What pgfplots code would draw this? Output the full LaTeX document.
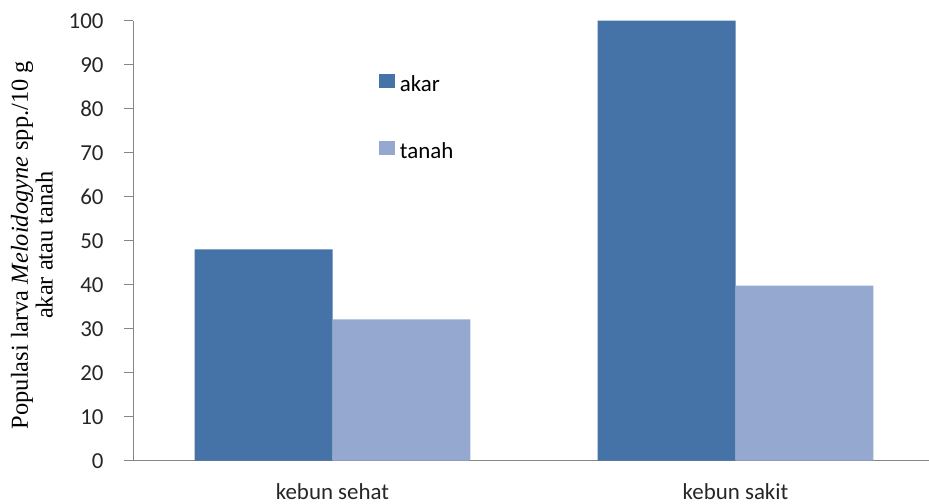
\documentclass[border=0pt]{standalone}
\usepackage{pgfplots}
\pgfplotsset{compat=1.18}
\usepackage{fontspec}
\setmainfont{Carlito}
\newfontfamily\tnr{Liberation Serif}
\definecolor{dark}{RGB}{69,114,167}
\definecolor{light}{RGB}{149,169,208}
\definecolor{axgray}{RGB}{134,134,134}
\begin{document}
\begin{tikzpicture}
\useasboundingbox (-133bp,-43.3bp) rectangle (796bp,460.7bp);
\begin{axis}[
  at={(0,0)}, anchor=south west,
  scale only axis, width=796bp, height=440bp,
  xmin=-0.495, xmax=1.48, ymin=0, ymax=100,
  ybar, bar width=0.342,
  axis y line*=left, axis x line*=bottom,
  axis line style={axgray, line width=0.9bp, -},
  xtick={0,1}, xticklabels={kebun sehat, kebun sakit},
  xtick style={draw=none},
  ytick={0,10,...,100},
  ytick style={axgray, line width=0.9bp},
  tick align=outside, major tick length=9bp,
  tick label style={font=\fontsize{23}{27}\selectfont, text=black!85},
  /pgf/number format/assume math mode=true,
  yticklabel style={xshift=-17bp},
  xticklabel style={yshift=-10bp},
  ylabel={{\tnr Populasi larva \textit{Meloidogyne} spp./10 g}\\{\tnr akar atau tanah}},
  ylabel style={at={(axis description cs:-0.127,0.49)}, anchor=center, align=center, font=\fontsize{24.5}{25}\selectfont},
  legend style={draw=none, fill=none, at={(axis description cs:0.305,0.884)}, anchor=north west,
    font=\fontsize{23}{27}\selectfont, row sep=45bp,
    nodes={text height=16bp, text depth=5bp, inner sep=0pt}},
  legend cell align=left,
  /tikz/every odd column/.append style={column sep=5bp},
]
\addplot[fill=dark, draw=none, bar shift=-0.171, legend image code/.code={\fill[dark] (0bp,-2bp) rectangle (16bp,12bp);}] coordinates {(0,48) (1,100)};
\addlegendentry{akar}
\addplot[fill=light, draw=none, bar shift=0.171, legend image code/.code={\fill[light] (0bp,-2bp) rectangle (16bp,12bp);}] coordinates {(0,32.1) (1,39.8)};
\addlegendentry{tanah}
\end{axis}
\end{tikzpicture}
\end{document}
